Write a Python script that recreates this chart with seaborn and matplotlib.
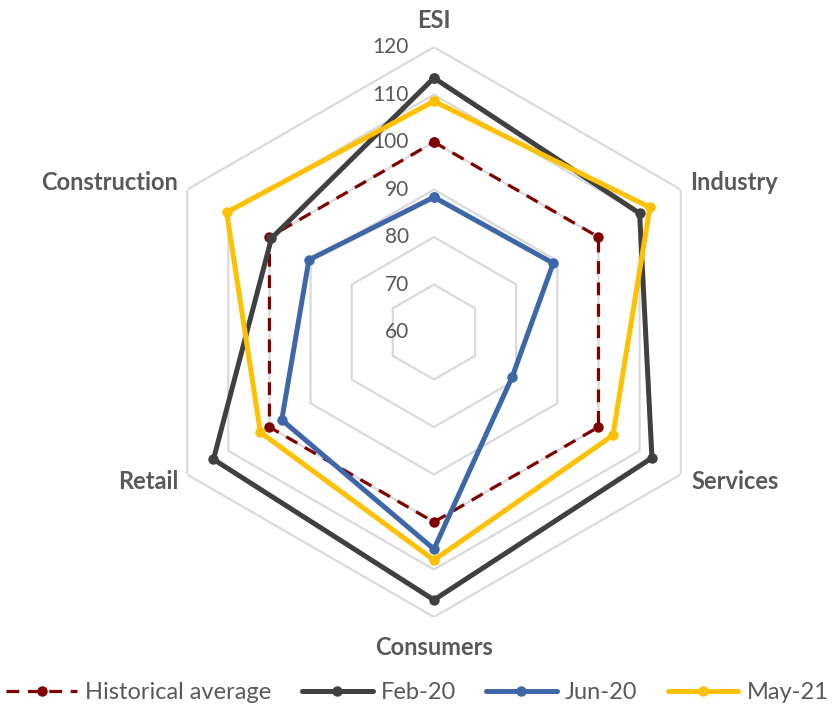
import numpy as np
import pandas as pd
import matplotlib
matplotlib.use("Agg")
import matplotlib.pyplot as plt
import seaborn as sns
from matplotlib.lines import Line2D

# Sentiment indicators (long-term average = 100)
categories = ["ESI", "Industry", "Services", "Consumers", "Retail", "Construction"]
hist_avg = [100, 100, 100, 100, 100, 100]
feb20 = [113.5, 110.0, 113.0, 116.4, 113.6, 99.5]
jun20 = [88.4, 89.0, 79.0, 105.7, 97.0, 90.4]
may21 = [108.6, 112.5, 103.5, 108.0, 102.2, 110.4]
series_names = ["Historical average", "Feb-20", "Jun-20", "May-21"]
ring_levels = [70, 80, 90, 100, 110, 120]
tick_levels = [60, 70, 80, 90, 100, 110, 120]

sns.set_theme(style="white")
plt.rcParams["font.family"] = ["Lato", "DejaVu Sans"]
text_color = "#595959"

fig = plt.figure(figsize=(8.35, 7.08), dpi=100)
ax = fig.add_axes([0.1784, 0.1285, 0.6826, 0.805], projection="polar")
ax.set_theta_offset(np.pi / 2)
ax.set_theta_direction(-1)
ax.set_ylim(60, 120)
ax.grid(False)
ax.set_xticks([])
ax.set_yticks([])
ax.spines["polar"].set_visible(False)
ax.patch.set_alpha(0)

angles = np.deg2rad(np.arange(len(categories)) * 60.0)
closed = np.append(angles, 2 * np.pi)

# hexagonal gridlines
for level in ring_levels:
    ax.plot(closed, [level] * len(closed), color="#d9d9d9", lw=1.6, zorder=1)

values = {"Historical average": hist_avg, "Feb-20": feb20,
          "Jun-20": jun20, "May-21": may21}
df = pd.concat([
    pd.DataFrame({"theta": closed,
                  "value": list(vals) + [vals[0]],
                  "series": name})
    for name, vals in values.items()
], ignore_index=True)

styles = {
    "Historical average": dict(color="#800000", lw=2.3, linestyle=(0, (4, 2.7)), markersize=7.5),
    "Feb-20": dict(color="#404040", lw=3.6, linestyle="-", markersize=7.5),
    "Jun-20": dict(color="#3d67a8", lw=3.6, linestyle="-", markersize=7.5),
    "May-21": dict(color="#ffc000", lw=3.6, linestyle="-", markersize=7.5),
}

for i, name in enumerate(series_names):
    st = styles[name]
    sns.lineplot(data=df[df["series"] == name], x="theta", y="value",
                 sort=False, estimator=None, ax=ax, legend=False,
                 color=st["color"], lw=st["lw"], linestyle=st["linestyle"],
                 marker="o", markersize=st["markersize"], markeredgewidth=0,
                 zorder=3 + i)
ax.set_xlabel("")
ax.set_ylabel("")

# radial value labels along the ESI axis
for lvl in tick_levels:
    ax.annotate(str(lvl), xy=(0, lvl), xytext=(-25, 0), textcoords="offset pixels",
                ha="right", va="center", fontsize=15, color=text_color,
                annotation_clip=False)

# category labels
label_offsets = {
    "ESI": ((0, 27), "center", "center"),
    "Industry": ((9, 7), "left", "center"),
    "Services": ((11, -7), "left", "center"),
    "Consumers": ((0, -30), "center", "center"),
    "Retail": ((-9, -7), "right", "center"),
    "Construction": ((-9, 7), "right", "center"),
}
for ang, cat in zip(angles, categories):
    off, ha, va = label_offsets[cat]
    ax.annotate(cat, xy=(ang, 120), xytext=off, textcoords="offset pixels",
                ha=ha, va=va, fontsize=17, fontweight="bold", color=text_color,
                annotation_clip=False)

handles = [Line2D([], [], color=styles[n]["color"], lw=styles[n]["lw"],
                  linestyle=styles[n]["linestyle"], marker="o",
                  markersize=styles[n]["markersize"], markeredgewidth=0)
           for n in series_names]
fig.legend(handles, series_names, loc="center", bbox_to_anchor=(0.5, 0.022),
           ncol=4, frameon=False, fontsize=17, labelcolor=text_color,
           handlelength=3.0, handletextpad=0.35, columnspacing=1.27, numpoints=1)

fig.savefig("out.png", dpi=100)
